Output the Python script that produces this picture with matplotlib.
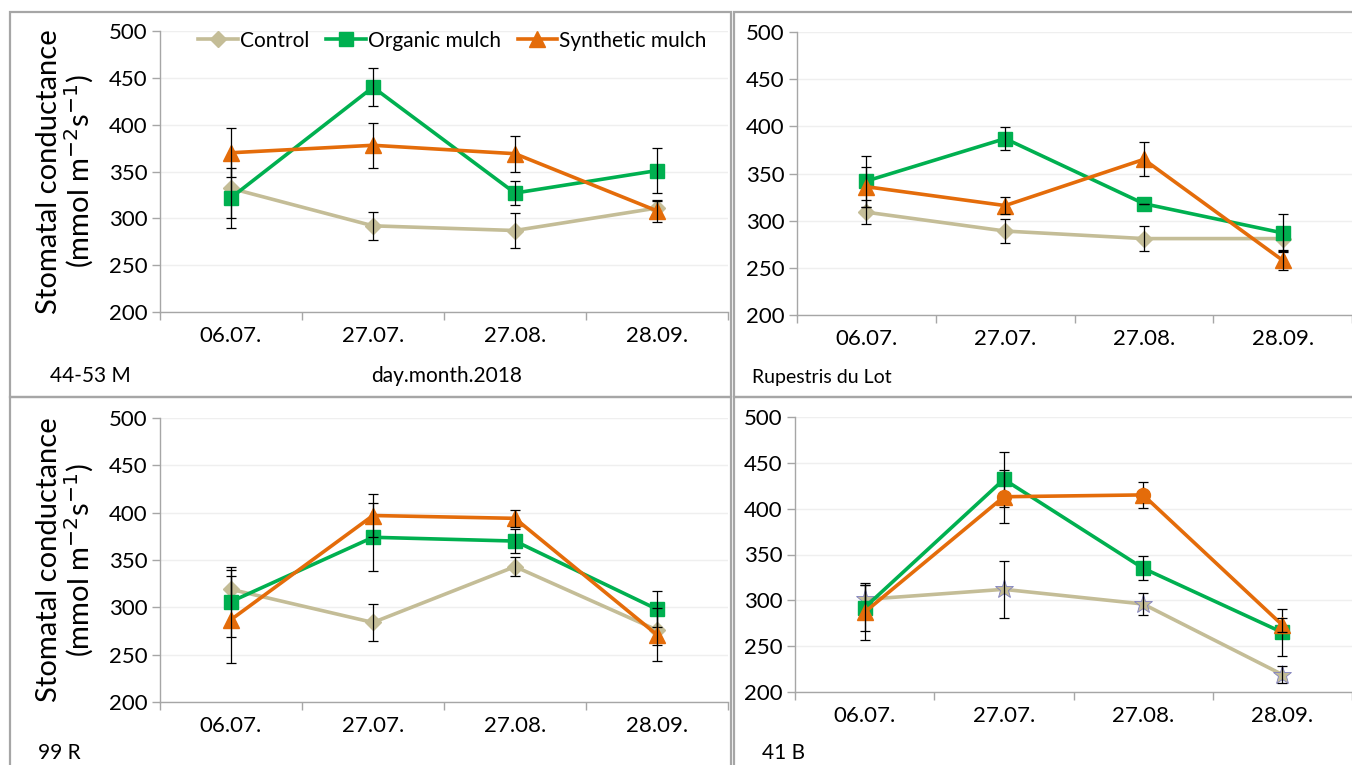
import matplotlib
matplotlib.use("Agg")
import matplotlib.pyplot as plt
from matplotlib.patches import Rectangle
from matplotlib.lines import Line2D
import numpy as np

plt.rcParams['font.family'] = ['Lato', 'DejaVu Sans']

dates = ["06.07.", "27.07.", "27.08.", "28.09."]
series_names = ["Control", "Organic mulch", "Synthetic mulch"]

# 44-53 M
ctrl_4453 = [332, 292, 287, 311]
ctrl_4453_err = [32, 15, 19, 8]
org_4453 = [322, 440, 327, 351]
org_4453_err = [32, 20, 13, 24]
syn_4453 = [370, 378, 369, 308]
syn_4453_err = [26, 24, 19, 12]

# Rupestris du Lot
ctrl_rup = [309, 289, 281, 281]
ctrl_rup_err = [13, 13, 13, 12]
org_rup = [342, 387, 318, 287]
org_rup_err = [27, 12, 0, 20]
syn_rup = [336, 316, 365, 258]
syn_rup_err = [21, 9, 18, 10]

# 99 R
ctrl_99r = [319, 284, 343, 276]
ctrl_99r_err = [20, 20, 10, 16]
org_99r = [306, 374, 370, 298]
org_99r_err = [37, 36, 13, 19]
syn_99r = [287, 397, 394, 271]
syn_99r_err = [46, 23, 9, 28]

# 41 B
ctrl_41b = [301, 312, 296, 219]
ctrl_41b_err = [18, 31, 12, 9]
org_41b = [292, 432, 335, 265]
org_41b_err = [25, 30, 13, 26]
syn_41b = [287, 413, 415, 273]
syn_41b_err = [30, 29, 14, 8]

panel_labels = ["44-53 M", "Rupestris du Lot", "99 R", "41 B"]

C_CTRL = "#C4BD97"
C_ORG = "#00B050"
C_SYN = "#E46C0A"

fig = plt.figure(figsize=(13.52, 7.65), dpi=100)
W, H = 1352, 765

def fx(px):
    return px / W

def fy(py):
    return 1 - py / H

# panel borders
for (x0, y0, x1, y1) in [(10, 12, 731, 397), (734, 12, 1360, 397),
                         (10, 397, 731, 770), (734, 397, 1360, 770)]:
    fig.patches.append(Rectangle((fx(x0), fy(y1)), fx(x1 - x0), (y1 - y0) / H,
                                 transform=fig.transFigure, fill=False,
                                 edgecolor="#A6A6A6", linewidth=1.6, zorder=0))

axes_px = [(160, 31, 728, 312), (797, 32, 1352, 315),
           (160, 418, 728, 702), (795, 417, 1352, 692)]

data = [
    (ctrl_4453, ctrl_4453_err, org_4453, org_4453_err, syn_4453, syn_4453_err),
    (ctrl_rup, ctrl_rup_err, org_rup, org_rup_err, syn_rup, syn_rup_err),
    (ctrl_99r, ctrl_99r_err, org_99r, org_99r_err, syn_99r, syn_99r_err),
    (ctrl_41b, ctrl_41b_err, org_41b, org_41b_err, syn_41b, syn_41b_err),
]

ylabel = "Stomatal conductance\n(mmol m$^{\u2212 2}$s$^{\u2212 1}$)"
TICK_FS = 16

axs = []
for i, ((l, t, r, b), d) in enumerate(zip(axes_px, data)):
    ax = fig.add_axes([fx(l), fy(b), fx(r - l), (b - t) / H])
    axs.append(ax)
    x = np.arange(len(dates))
    c, ce, o, oe, s, se = d
    ekw = dict(fmt="none", ecolor="black", elinewidth=0.9, capsize=3.5, capthick=0.9)
    if i == 3:
        ax.plot(x, c, color=C_CTRL, lw=2.6, marker="*", ms=14,
                mec="#8080C0", mew=0.6, zorder=3)
    else:
        ax.plot(x, c, color=C_CTRL, lw=2.6, marker="D", ms=8, zorder=3)
    ax.errorbar(x, c, yerr=ce, zorder=3.5, **ekw)
    ax.plot(x, o, color=C_ORG, lw=2.6, marker="s", ms=10, zorder=4)
    ax.errorbar(x, o, yerr=oe, zorder=4.5, **ekw)
    ax.plot(x, s, color=C_SYN, lw=2.6, marker="^", ms=11, zorder=5)
    ax.errorbar(x, s, yerr=se, zorder=5.5, **ekw)
    if i == 3:
        ax.plot(x[1:3], s[1:3], ls="none", marker="o", ms=10, color=C_SYN, zorder=6)

    ax.set_ylim(200, 500)
    ax.set_xlim(-0.5, 3.5)
    ax.set_yticks(np.arange(200, 501, 50))
    ax.yaxis.grid(True, color="#EFEFEF", lw=1)
    ax.set_axisbelow(True)
    ax.set_xticks(np.arange(-0.5, 3.6, 1))
    ax.set_xticklabels([])
    ax.set_xticks(x, minor=True)
    ax.set_xticklabels(dates, minor=True)
    ax.tick_params(axis="x", which="major", length=6, color="#A6A6A6", width=1)
    ax.tick_params(axis="x", which="minor", length=0, pad=10, labelsize=TICK_FS)
    ax.tick_params(axis="y", length=6, color="#A6A6A6", width=1, labelsize=TICK_FS, pad=3)
    for sp in ["top", "right"]:
        ax.spines[sp].set_visible(False)
    for sp in ["left", "bottom"]:
        ax.spines[sp].set_color("#A6A6A6")
        ax.spines[sp].set_linewidth(1)
    ax.set_facecolor("none")
    if i in (0, 2):
        ax.set_ylabel(ylabel, fontsize=21, labelpad=9, linespacing=1.05)

handles = [
    Line2D([], [], color=C_CTRL, lw=2.6, marker="D", ms=8),
    Line2D([], [], color=C_ORG, lw=2.6, marker="s", ms=10),
    Line2D([], [], color=C_SYN, lw=2.6, marker="^", ms=11),
]
axs[0].legend(handles, series_names, loc="upper center", bbox_to_anchor=(0.515, 1.068),
              ncol=3, frameon=False, fontsize=15, handlelength=1.9,
              handletextpad=0.1, columnspacing=0.8)

fig.text(fx(90), fy(376), panel_labels[0], ha="center", va="center", fontsize=15)
fig.text(fx(447), fy(376), "day.month.2018", ha="center", va="center", fontsize=15)
fig.text(fx(752), fy(378), panel_labels[1], ha="left", va="center", fontsize=14)
fig.text(fx(38), fy(753), panel_labels[2], ha="left", va="center", fontsize=15)
fig.text(fx(762), fy(753), panel_labels[3], ha="left", va="center", fontsize=15)

fig.savefig("out.png", dpi=100)
